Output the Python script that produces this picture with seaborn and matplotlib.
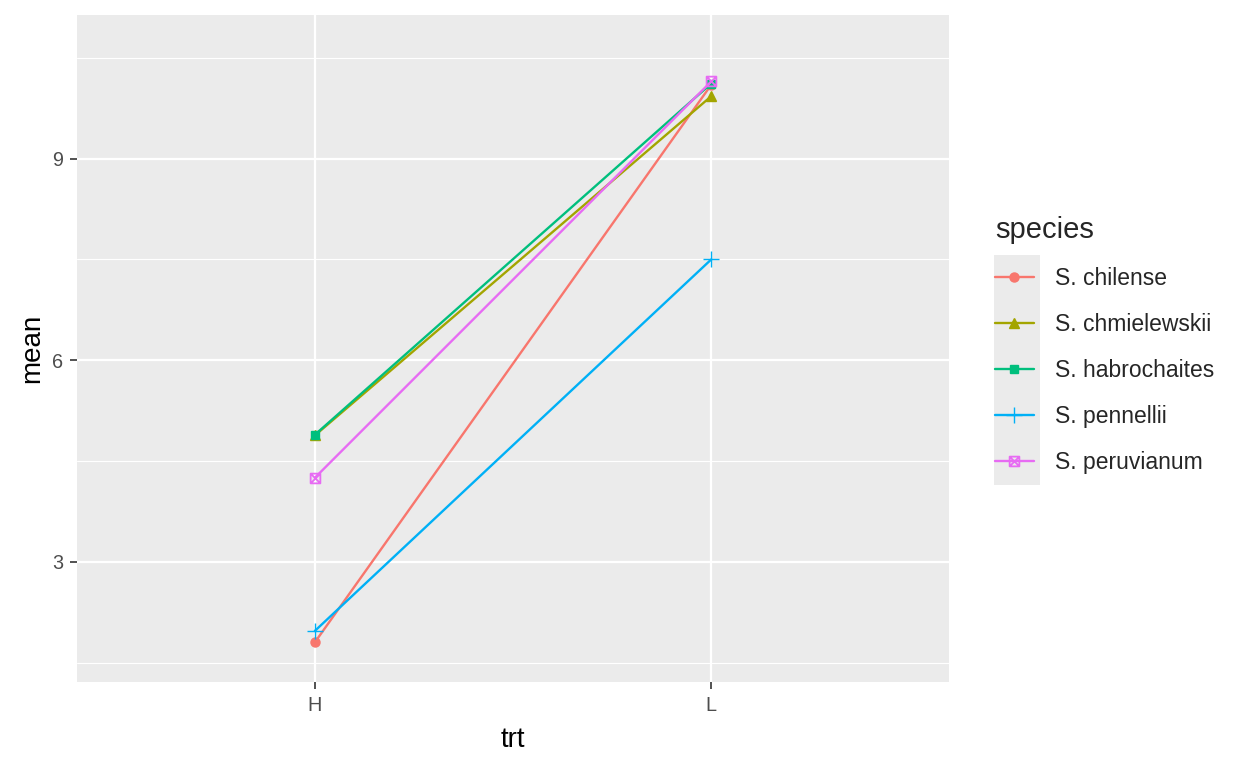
import matplotlib
matplotlib.use("Agg")
import matplotlib.pyplot as plt
import pandas as pd
import seaborn as sns
from matplotlib.path import Path
from matplotlib.patches import Rectangle

# dados
species = ["S. chilense", "S. chmielewskii", "S. habrochaites", "S. pennellii", "S. peruvianum"]
trt = ["H", "L"]
mean_H = [1.80, 4.88, 4.89, 1.97, 4.25]
mean_L = [10.10, 9.93, 10.12, 7.50, 10.15]

cores = ["#F8766D", "#A3A500", "#00BF7D", "#00B0F6", "#E76BF3"]

df = pd.DataFrame({
    "species": species * 2,
    "trt": ["H"] * len(species) + ["L"] * len(species),
    "mean": mean_H + mean_L,
})

# quadrado com X (shape 7 do ggplot)
sq_x = Path(
    [(-1, -1), (1, -1), (1, 1), (-1, 1), (-1, -1), (-1, -1), (1, 1), (-1, 1), (1, -1)],
    [Path.MOVETO, Path.LINETO, Path.LINETO, Path.LINETO, Path.CLOSEPOLY,
     Path.MOVETO, Path.LINETO, Path.MOVETO, Path.LINETO],
)
marcadores = ["o", "^", "s", "+", sq_x]
tamanhos = [6.5, 7.5, 6.0, 11, 7]

sns.set_style("darkgrid", {"axes.facecolor": "#EBEBEB", "grid.color": "white"})
plt.rcParams["font.family"] = ["Liberation Sans", "DejaVu Sans"]

fig = plt.figure(figsize=(12.48, 7.68), dpi=100)
ax = fig.add_axes([77 / 1248, 1 - 682 / 768, 872 / 1248, 667 / 768])

for sp, cor, mk, ms in zip(species, cores, marcadores, tamanhos):
    sub = df[df["species"] == sp]
    sns.lineplot(data=sub, x="trt", y="mean", color=cor, marker=mk, markersize=ms,
                 markeredgecolor=cor, markeredgewidth=1.3 if sp == "S. peruvianum" else 1.0,
                 markerfacecolor="none" if sp == "S. peruvianum" else cor,
                 linewidth=1.7, ax=ax, label=sp, legend=False)

ax.set_xlim(-0.6, 1.6)
ax.set_ylim(1.21, 11.14)
ax.set_yticks([3, 6, 9])
ax.set_yticks([1.5, 4.5, 7.5, 10.5], minor=True)
ax.grid(True, which="major", color="white", linewidth=1.6)
ax.grid(True, which="minor", color="white", linewidth=0.8)
ax.grid(False, axis="x", which="minor")
for s in ax.spines.values():
    s.set_visible(False)
ax.tick_params(axis="both", which="major", bottom=True, left=True, length=5, width=1.2,
               color="#333333", labelsize=14.3, labelcolor="#4D4D4D", pad=5)
ax.tick_params(axis="both", which="minor", length=0)
ax.set_xlabel("trt", fontsize=20, color="black", labelpad=9)
ax.set_ylabel("mean", fontsize=20, color="black", labelpad=5)

hs = ax.lines[:len(species)]

fig.patches.append(Rectangle((994 / 1248, 1 - 485 / 768), 46 / 1248, 230 / 768,
                             transform=fig.transFigure, facecolor="#EBEBEB",
                             edgecolor="none", zorder=0))
fig.legend(hs, species, loc="upper left", bbox_to_anchor=(995 / 1248, 1 - 216 / 768),
           frameon=False, title="species", title_fontsize=21, fontsize=16.5,
           handlelength=1.7, handletextpad=0.9, labelspacing=1.0, borderpad=0,
           alignment="left", borderaxespad=0)

fig.savefig("out.png", dpi=100)
